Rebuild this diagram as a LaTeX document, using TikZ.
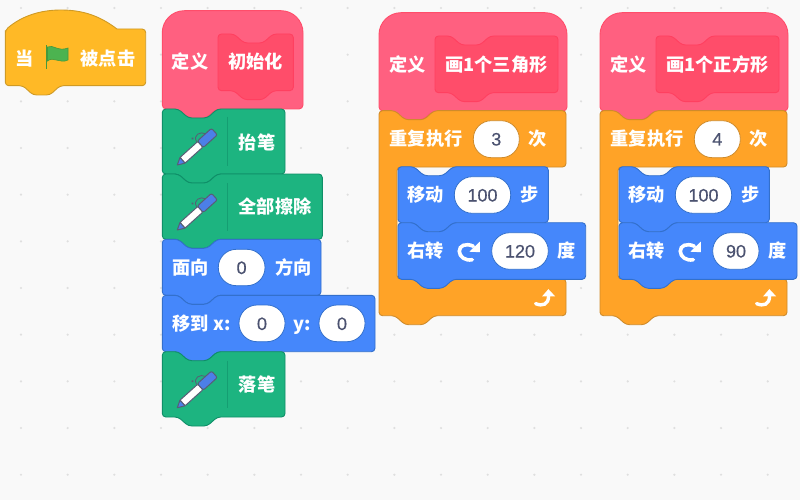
\documentclass[tikz,border=0pt]{standalone}
\usepackage{fontspec}
\newfontfamily\cjkfont{Noto Sans CJK SC}
\newfontfamily\numfont[FakeBold=0.4]{Liberation Sans}

\definecolor{sheetbg}{HTML}{F9F9F9}
\definecolor{griddot}{HTML}{DFDFDF}
\definecolor{hatfill}{HTML}{FFB926}
\definecolor{hatline}{HTML}{CF9A25}
\definecolor{flagfill}{HTML}{4CB350}
\definecolor{flagline}{HTML}{45993D}
\definecolor{deffill}{HTML}{FF6080}
\definecolor{defline}{HTML}{FF4D6A}
\definecolor{protofill}{HTML}{FF4D6A}
\definecolor{protoline}{HTML}{FF4060}
\definecolor{penfill}{HTML}{1DB480}
\definecolor{penline}{HTML}{0F8F68}
\definecolor{movefill}{HTML}{4587FB}
\definecolor{moveline}{HTML}{3370CC}
\definecolor{loopfill}{HTML}{FFA327}
\definecolor{loopline}{HTML}{CF8B2B}
\definecolor{numtext}{HTML}{4B5270}
\definecolor{pengrey}{HTML}{575E75}
\definecolor{penblue}{HTML}{4C7FE8}

\tikzset{
    bt/.style={inner sep=0pt, text=white, font=\cjkfont\bfseries\fontsize{18.2}{20}\selectfont, text height=15.6pt, text depth=2.2pt},
    num/.style={inner sep=0pt, text=numtext, font=\numfont\fontsize{18}{20}\selectfont, text height=13pt, text depth=0pt},
    pill/.style={fill=white, line width=0.8pt, rounded corners=18pt},
    hatblock/.style={fill=hatfill, draw=hatline, line width=0.9pt},
    defblock/.style={fill=deffill, draw=defline, line width=0.9pt},
    protoblock/.style={fill=protofill, draw=protoline, line width=0.9pt},
    penblock/.style={fill=penfill, draw=penline, line width=0.9pt},
    pendivider/.style={draw=penline!60!penfill, line width=0.8pt},
    moveblock/.style={fill=movefill, draw=moveline, line width=0.9pt},
    loopblock/.style={fill=loopfill, draw=loopline, line width=0.9pt},
}

% style, left, top, right, bottom
\newcommand{\stackblock}[5]{
    \draw[#1, rounded corners=3.5pt] (#2+8,#3) -- (#2+16,#3) -- (#2+26,#3+9) -- (#2+45,#3+9) -- (#2+55,#3) -- (#4,#3) -- (#4,#5)
        -- (#2+55,#5) -- (#2+45,#5+9) -- (#2+26,#5+9) -- (#2+16,#5) -- (#2,#5) -- (#2,#3) -- cycle;
}
% left, top, right, bottom
\newcommand{\defshape}[4]{
    \draw[defblock] (#1,#2+24) [rounded corners=22pt] -- (#1,#2) -- (#3,#2) [rounded corners=4pt] -- (#3,#4)
        -- (#1+54,#4) -- (#1+44,#4+9) -- (#1+26,#4+9) -- (#1+16,#4) -- (#1,#4) -- cycle;
}
% left, top, right, arm bottom, foot top, foot bottom
\newcommand{\loopshape}[6]{
    \draw[loopblock, rounded corners=3.5pt] (#1+8,#2) -- (#1+16,#2) -- (#1+26,#2+9) -- (#1+45,#2+9) -- (#1+55,#2) -- (#3,#2) -- (#3,#4)
        -- (#1+18,#4) -- (#1+18,#5) -- (#3,#5) -- (#3,#6)
        -- (#1+55,#6) -- (#1+45,#6+9) -- (#1+26,#6+9) -- (#1+16,#6) -- (#1,#6) -- (#1,#2) -- cycle;
}
\newcommand{\penicon}[2]{
    \begin{scope}[shift={(#1+15,#2+56)}, rotate=42]
        \draw[pengrey, line width=0.8pt] (30,-4.2) .. controls (31,-12) and (40,-10) .. (42,-4.2);
        \fill[pengrey] (29,-9.5) circle (1.3pt);
        \draw[pengrey, line width=1pt, fill=white, rounded corners=1pt] (7,-3.8) -- (31,-3.8) -- (31,3.8) -- (7,3.8) -- cycle;
        \draw[pengrey, line width=1pt, fill=penblue, line join=round] (0,0) -- (7,-3.8) -- (7,3.8) -- cycle;
        \draw[pengrey, line width=1pt, fill=penblue, rounded corners=2pt] (31,-4.4) -- (50,-4.4) -- (50,4.4) -- (31,4.4) -- cycle;
    \end{scope}
}
\newcommand{\turnicon}[2]{
    \begin{scope}[shift={(#1,#2)}]
        \draw[white, line width=3.6pt, line cap=round] (4,8) .. controls (-3,9.5) and (-9,5) .. (-9,-0.5) .. controls (-9,-6) and (-3,-9) .. (5,-5.5);
        \fill[white] (11.5,-10) -- (11.5,0.5) -- (1,0) -- cycle;
    \end{scope}
}
\newcommand{\loopicon}[2]{
    \begin{scope}[shift={(#1,#2)}]
        \draw[white, line width=3.4pt, line cap=round] (-9,6) .. controls (-2,9) and (4,7) .. (4,-2);
        \fill[white] (-2.5,-1.2) -- (3.8,-8.5) -- (10.6,-1.2) -- cycle;
    \end{scope}
}

\begin{document}
\begin{tikzpicture}[x=1pt, y=-1pt]
    \useasboundingbox (0,0) rectangle (800,500);
    \fill[sheetbg] (0,0) rectangle (800,500);
    \foreach \i in {0,...,17} {
        \foreach \j in {0,...,10} {
            \fill[griddot] (21+46.67*\i, 8+46.67*\j) circle (1.2pt);
        }
    }

    % when flag clicked
    \draw[hatblock, rounded corners=3.5pt] (5.3,34) -- (5.3,30) [sharp corners] .. controls (22,16) and (40,10) .. (61,10) .. controls (83,10) and (100,16) .. (117,29) [rounded corners=3.5pt] -- (145.7,29) -- (145.7,85.7)
        -- (60,85.7) -- (50,95) -- (33,95) -- (23,85.7) -- (5.3,85.7) -- cycle;
    \node[bt] (hatwhen) at (24.5,59) {当};
    \draw[fill=flagfill, draw=flagline, line width=0.6pt] (47.5,47) .. controls (53,44) and (58,52) .. (68,48) -- (68,60) .. controls (60,64) and (53,56) .. (47.5,61) -- cycle;
    \draw[flagline, line width=1.6pt] (46.6,45.5) -- (46.6,69);
    \node[bt] (hatclick) at (108,59) {被点击};

    % init stack
    \defshape{162.3}{10.7}{303}{109}
    \stackblock{protoblock}{218}{34}{293.3}{90.7}
    \node[bt] (defa) at (190,62) {定义};
    \node[bt] (inita) at (255.5,62) {初始化};

    \stackblock{penblock}{162.3}{109}{285}{174}
    \penicon{162.3}{109}
    \draw[pendivider] (227.7,117) -- (227.7,165.7);
    \node[bt] (penup) at (257,143) {抬笔};

    \stackblock{penblock}{162.3}{174}{322.3}{239.3}
    \penicon{162.3}{174}
    \draw[pendivider] (227.7,183) -- (227.7,231);
    \node[bt] (penclear) at (275,207) {全部擦除};

    \stackblock{moveblock}{162.3}{239.3}{321}{295.3}
    \node[bt] (facea) at (190.5,268) {面向};
    \draw[pill, draw=moveline] (218.3,249.3) rectangle (265,285.7);
    \node[num] (faceval) at (241.6,267.5) {0};
    \node[bt] (faceb) at (293.5,268) {方向};

    \stackblock{moveblock}{162.3}{295.3}{375}{351.7}
    \node[bt] (goa) at (190.5,324) {移到};
    \node[bt] (gox) at (222,324) {x:};
    \draw[pill, draw=moveline] (239,305) rectangle (285,341.7);
    \node[num] (goxval) at (262,323.5) {0};
    \node[bt] (goy) at (302,324) {y:};
    \draw[pill, draw=moveline] (319,305) rectangle (365,341.7);
    \node[num] (goyval) at (342,323.5) {0};

    \stackblock{penblock}{162.3}{351.7}{285}{417}
    \penicon{162.3}{351.7}
    \draw[pendivider] (227.7,360.7) -- (227.7,408);
    \node[bt] (pendown) at (257,385) {落笔};

    % triangle stack
    \defshape{379}{12.7}{567}{111}
    \stackblock{protoblock}{435}{36}{558}{92.7}
    \node[bt] (defb) at (407.5,65) {定义};
    \node[bt] (triname) at (496.5,65) {画1个三角形};

    \loopshape{379}{110.7}{566}{167}{279}{315.7}
    \node[bt] (trirep) at (426,139) {重复执行};
    \draw[pill, draw=loopline] (473.3,120.7) rectangle (519.3,157.7);
    \node[num] (trirepval) at (496.3,139) {3};
    \node[bt] (tritimes) at (538,139) {次};
    \loopicon{544.6}{297.6}

    \stackblock{moveblock}{398}{166.7}{548.3}{222.7}
    \node[bt] (trimove) at (425.5,195) {移动};
    \draw[pill, draw=moveline] (454.3,176.7) rectangle (510.7,213.3);
    \node[num] (trimoveval) at (482.5,195) {100};
    \node[bt] (tristep) at (529.3,195) {步};

    \stackblock{moveblock}{398}{222.7}{585.7}{279.3}
    \node[bt] (triturn) at (425.5,251) {右转};
    \turnicon{468.3}{251.7}
    \draw[pill, draw=moveline] (491.7,232.7) rectangle (548.3,269.3);
    \node[num] (triturnval) at (520,251) {120};
    \node[bt] (trideg) at (566.7,251) {度};

    % square stack
    \defshape{600}{12.7}{788}{111}
    \stackblock{protoblock}{656}{36}{779}{92.7}
    \node[bt] (defc) at (628.5,65) {定义};
    \node[bt] (squname) at (717.5,65) {画1个正方形};

    \loopshape{600}{110.7}{787}{167}{279}{315.7}
    \node[bt] (squrep) at (647,139) {重复执行};
    \draw[pill, draw=loopline] (694.3,120.7) rectangle (740.3,157.7);
    \node[num] (squrepval) at (717.3,139) {4};
    \node[bt] (squtimes) at (759,139) {次};
    \loopicon{765.6}{297.6}

    \stackblock{moveblock}{619}{166.7}{769.3}{222.7}
    \node[bt] (squmove) at (646.5,195) {移动};
    \draw[pill, draw=moveline] (675.3,176.7) rectangle (731.7,213.3);
    \node[num] (squmoveval) at (703.5,195) {100};
    \node[bt] (squstep) at (750.3,195) {步};

    \stackblock{moveblock}{619}{222.7}{797}{279.3}
    \node[bt] (squturn) at (646.5,251) {右转};
    \turnicon{689.3}{251.7}
    \draw[pill, draw=moveline] (712.7,232.7) rectangle (759,269.3);
    \node[num] (squturnval) at (736,251) {90};
    \node[bt] (squdeg) at (778,251) {度};
\end{tikzpicture}
\end{document}
